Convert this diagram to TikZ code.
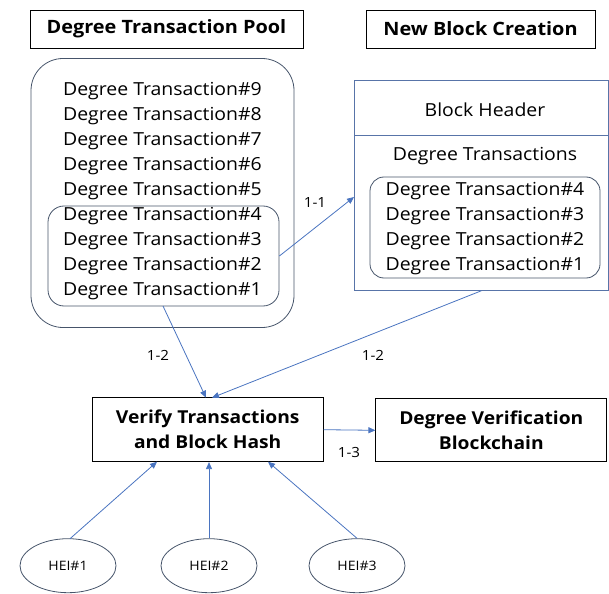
\documentclass[tikz,border=0pt]{standalone}
\usepackage{fontspec}
\setmainfont{Open Sans}[FakeStretch=1.08]
\usetikzlibrary{arrows.meta,shapes.geometric}
\definecolor{conn}{HTML}{4A74C0}
\definecolor{rbox}{HTML}{46546A}
\definecolor{bbox}{HTML}{5874A8}
\tikzset{
  title/.style={draw=black, line width=0.8pt, font=\bfseries\fontsize{18.4}{22}\selectfont, inner sep=0pt},
  item/.style={font=\fontsize{18}{22}\selectfont, inner sep=0pt},
  lab/.style={font=\fontsize{14}{16}\selectfont, inner sep=0pt},
  conn/.style={draw=conn, line width=0.8pt, -{Triangle[length=7pt,width=6pt]}},
  rbox/.style={draw=rbox, line width=0.8pt, rounded corners=#1},
  heinode/.style={draw=rbox, line width=0.8pt, ellipse, minimum width=96pt, minimum height=54pt, font=\fontsize{13}{15}\selectfont, inner sep=0pt},
  mainbox/.style={draw=black, line width=0.8pt, align=center, font=\bfseries\fontsize{17.8}{25}\selectfont, inner sep=0pt},
}
\begin{document}
\begin{tikzpicture}[x=1pt,y=-1pt]
\useasboundingbox (0,0) rectangle (609,593);
% titles
\node[title, minimum width=273pt, minimum height=38pt] (t1) at (166.5,29) {Degree Transaction Pool};
\node[title, minimum width=229pt, minimum height=38pt] (t2) at (480.5,29) {New Block Creation};
% pool
\node[rbox=32pt, minimum width=263pt, minimum height=269pt] (pool) at (162.5,193) {};
\node[rbox=16pt, minimum width=231pt, minimum height=100pt] (ipool) at (163.5,256) {};
\foreach \n/\y in {9/90.7,8/115.7,7/140.7,6/165.7,5/190.7,4/215.7,3/240.7,2/265.7,1/290.7}
  \node[item] (p\n) at (162.5,\y) {Degree Transaction\#\n};
% block
\node[draw=bbox, line width=0.8pt, minimum width=254pt, minimum height=210pt, inner sep=0pt] (block) at (481.5,185.7) {};
\draw[draw=bbox, line width=0.8pt] (block.west |- 0,135.7) coordinate (dl) -- (block.east |- 0,135.7) coordinate (dr);
\node[item] (bh) at (485,110) {Block Header};
\node[item] (dts) at (485,156) {Degree Transactions};
\node[rbox=14pt, minimum width=230pt, minimum height=101pt] (iblock) at (485,227.5) {};
\foreach \n/\y in {4/190.7,3/215.7,2/240.7,1/265.7}
  \node[item] (b\n) at (485,\y) {Degree Transaction\#\n};
% verify
\node[mainbox, minimum width=231pt, minimum height=64pt] (verify) at (207.7,429.7) {Verify Transactions\\and Block Hash};
\node[mainbox, minimum width=231pt, minimum height=63pt] (chain) at (491.3,430.3) {Degree Verification\\Blockchain};
% HEI
\node[heinode] (h1) at (68,565.7) {HEI\#1};
\node[heinode] (h2) at (209,565.7) {HEI\#2};
\node[heinode] (h3) at (357,565.7) {HEI\#3};
% connectors
\coordinate (a11s) at (ipool.east);
\coordinate (a11e) at (354,197);
\draw[conn] (a11s) -- (a11e);
\node[lab] (l11) at (315,203) {1-1};
\coordinate (a12s) at (163,306);
\coordinate (a12e) at (206,397.7);
\draw[conn] (a12s) -- (a12e);
\coordinate (b12s) at (481.5,290.7);
\coordinate (b12e) at (212,397.7);
\draw[conn] (b12s) -- (b12e);
\node[lab] (l12a) at (158,355) {1-2};
\node[lab] (l12b) at (373,355) {1-2};
\draw[conn] (verify.east) -- (chain.west);
\node[lab] (l13) at (349,452) {1-3};
\coordinate (h1s) at (70,538.7);
\coordinate (h1e) at (157,461.7);
\coordinate (h3e) at (268,461.7);
\draw[conn] (h1s) -- (h1e);
\draw[conn] (h2.north) -- (h2.north |- verify.south);
\draw[conn] (h3.north) -- (h3e);
\end{tikzpicture}
\end{document}
